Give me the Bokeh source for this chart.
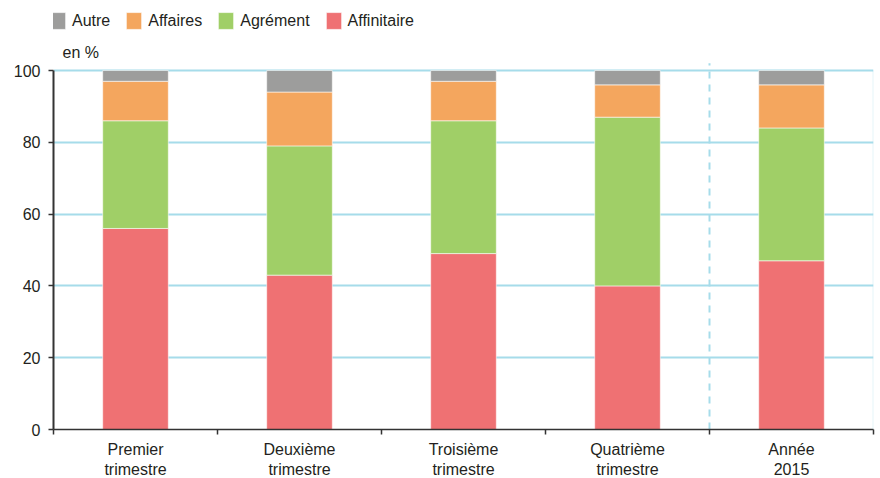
import numpy as np
from bokeh.plotting import figure
from bokeh.models import (Range1d, FixedTicker, Legend, LegendItem, Label,
                          ColumnDataSource, CustomJSTickFormatter, BoxAnnotation)
from bokeh.embed import file_html
from bokeh.resources import INLINE

categories = ["Premier\ntrimestre", "Deuxième\ntrimestre", "Troisième\ntrimestre",
              "Quatrième\ntrimestre", "Année\n2015"]
affinitaire = [56, 43, 49, 40, 47]
agrement = [30, 36, 37, 47, 37]
affaires = [11, 15, 11, 9, 12]
autre = [3, 6, 3, 4, 4]
series_names = ["Affinitaire", "Agrément", "Affaires", "Autre"]
colors = ["#ef7173", "#a0cf67", "#f4a65e", "#9d9d9c"]
y_ticks = [0, 20, 40, 60, 80, 100]

FONT = "Liberation Sans"
FS = "16px"
TXT = "#231f20"
GRID = "#a6dcea"

n = len(categories)
x = np.arange(n) + 0.5
src = ColumnDataSource(dict(x=x, Affinitaire=affinitaire, Agrément=agrement,
                            Affaires=affaires, Autre=autre))

FH = 429
p = figure(frame_width=820, frame_height=FH, output_backend="svg",
           toolbar_location=None,
           x_range=Range1d(0, n), y_range=Range1d(0, FH / 3.59),
           min_border_left=53, min_border_right=7, min_border_bottom=0,
           min_border_top=0)
p.outline_line_color = None

rs = p.vbar_stack(series_names, x="x", width=0.4, color=colors, source=src,
                  line_color="white", line_width=0.8, line_alpha=0.7)

p.xaxis.ticker = FixedTicker(ticks=list(x), minor_ticks=list(range(n + 1)))
p.xaxis.formatter = CustomJSTickFormatter(args=dict(labels=categories),
                                          code="return labels[Math.floor(tick)];")
p.xaxis.major_tick_out = 0
p.xaxis.major_tick_in = 0
p.xaxis.minor_tick_out = 5
p.xaxis.minor_tick_in = 0
p.xaxis.minor_tick_line_color = "#333333"
p.xaxis.minor_tick_line_width = 1.5
p.xaxis.axis_line_color = "#333333"
p.xaxis.axis_line_width = 1.5
p.xaxis.major_label_text_font = FONT
p.xaxis.major_label_text_font_size = FS
p.xaxis.major_label_text_color = TXT
p.xaxis.major_label_standoff = 6

p.yaxis.ticker = FixedTicker(ticks=y_ticks, minor_ticks=[])
p.yaxis.bounds = (0, 100)
p.yaxis.major_tick_out = 5
p.yaxis.major_tick_in = 0
p.yaxis.major_tick_line_color = "#333333"
p.yaxis.major_tick_line_width = 1.5
p.yaxis.axis_line_color = "#333333"
p.yaxis.axis_line_width = 2
p.yaxis.major_label_text_font = FONT
p.yaxis.major_label_text_font_size = FS
p.yaxis.major_label_text_color = TXT
p.yaxis.major_label_standoff = 8

p.xgrid.grid_line_color = None
p.ygrid.ticker = FixedTicker(ticks=y_ticks[1:])
p.ygrid.grid_line_color = GRID
p.ygrid.grid_line_width = 2

# dashed separator between the quarters and the annual bar
sep = n - 1
p.segment(x0=[sep], y0=[0], x1=[sep], y1=[102], line_color=GRID,
          line_width=2, line_dash="7 6")
# right border
p.add_layout(BoxAnnotation(left=n, right=n, bottom=0, top=100,
                           fill_alpha=0, line_color=GRID, line_width=2))

p.add_layout(Label(x=9, y=FH - 52, x_units="screen", y_units="screen", text="en %",
                   text_font=FONT, text_font_size=FS, text_color=TXT,
                   text_baseline="middle"))

items = [LegendItem(label=series_names[i], renderers=[rs[i]]) for i in [3, 2, 1, 0]]
legend = Legend(items=items, orientation="horizontal", location=(-5, FH - 31),
                label_text_font=FONT, label_text_font_size=FS,
                label_text_color=TXT, glyph_width=19, glyph_height=21,
                label_standoff=5, spacing=14, padding=0, margin=0,
                border_line_color=None, background_fill_alpha=0)
p.add_layout(legend, "center")

open("out.html", "w").write(file_html(p, INLINE))
